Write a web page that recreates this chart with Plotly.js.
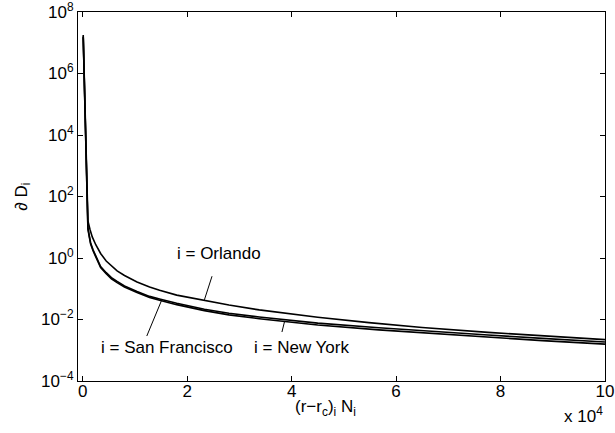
<!DOCTYPE html>
<html>
<head>
<meta charset="utf-8">
<script src="https://cdn.plot.ly/plotly-3.0.1.min.js"></script>
<style>html,body{margin:0;padding:0;background:#fff;}#chart{width:615px;height:433px;}</style>
</head>
<body>
<div id="chart"></div>
<script>
// Data
const xOrlando = [100, 1000, 1400, 1830, 2500, 3430, 4500, 5500, 6590, 8000, 10400, 12800, 14720, 18000, 23300, 28000, 33800, 40000, 45000, 54800, 65000, 77600, 88000, 100000];
const yOrlando = [1.8e7, 16, 8.5, 4.85, 2.7, 1.40, 0.80, 0.55, 0.38, 0.27, 0.166, 0.114, 0.089, 0.062, 0.042, 0.0295, 0.0205, 0.0148, 0.0118, 0.0079, 0.0055, 0.0038, 0.0029, 0.00222];
const xCity = [100, 1000, 1250, 1520, 2000, 2600, 3430, 4500, 5500, 6590, 8000, 10400, 12800, 14720, 18000, 23300, 28000, 33800, 40000, 45000, 56700, 65000, 77600, 88000, 100000];
const yNewYork = [1.6e7, 9.4, 5.4, 3.07, 1.82, 1.04, 0.53, 0.333, 0.229, 0.173, 0.123, 0.082, 0.0565, 0.0467, 0.0336, 0.0216, 0.0159, 0.0120, 0.0092, 0.0076, 0.0054, 0.0043, 0.00314, 0.00244, 0.00186];
const ySanFrancisco = [1.5e7, 8.8, 5.0, 2.83, 1.68, 0.96, 0.49, 0.307, 0.211, 0.159, 0.113, 0.075, 0.0515, 0.0423, 0.0304, 0.0194, 0.0141, 0.0106, 0.0080, 0.0066, 0.0046, 0.0037, 0.00266, 0.00206, 0.00158];

const xTickVals = [0, 20000, 40000, 60000, 80000, 100000];
const xTickText = ['0', '2', '4', '6', '8', '10'];
const yTickVals = [1e-4, 1e-2, 1, 1e2, 1e4, 1e6, 1e8];
const yTickText = ['10<sup>−4</sup>', '10<sup>−2</sup>', '10<sup>0</sup>', '10<sup>2</sup>', '10<sup>4</sup>', '10<sup>6</sup>', '10<sup>8</sup>'];

const FONT = 'Liberation Sans, Arial, Helvetica, sans-serif';
const lineStyle = {color: '#000', width: 1.6};

const traces = [
  {x: xOrlando, y: yOrlando, name: 'Orlando', mode: 'lines', line: lineStyle},
  {x: xCity, y: yNewYork, name: 'New York', mode: 'lines', line: lineStyle},
  {x: xCity, y: ySanFrancisco, name: 'San Francisco', mode: 'lines', line: lineStyle}
];

const axisCommon = {
  showline: true, linecolor: '#000', linewidth: 1, mirror: 'ticks',
  ticks: 'inside', ticklen: 5, tickcolor: '#000', tickwidth: 1,
  showgrid: false, zeroline: false,
  tickfont: {family: FONT, size: 17, color: '#000'}
};

const pointer = (hx, hy, tx, ty) => ({
  x: hx, y: hy, xref: 'x', yref: 'y', ax: tx, ay: ty, axref: 'x', ayref: 'y',
  text: ' ', font: {size: 1}, borderpad: 0, showarrow: true, arrowhead: 0,
  arrowwidth: 1, arrowcolor: '#000', standoff: 0, startstandoff: 0
});
const label = (x, y, text) => ({
  x: x, y: y, xref: 'x', yref: 'y', text: text, showarrow: false,
  xanchor: 'center', yanchor: 'middle', font: {family: FONT, size: 17, color: '#000'}
});

const layout = {
  width: 615, height: 433,
  margin: {l: 78, r: 10, t: 12, b: 52},
  paper_bgcolor: '#fff', plot_bgcolor: '#fff',
  showlegend: false,
  xaxis: Object.assign({}, axisCommon, {
    range: [-900, 100000], tickmode: 'array', tickvals: xTickVals, ticktext: xTickText,
    ticklabelstandoff: -5
  }),
  yaxis: Object.assign({}, axisCommon, {
    type: 'log', range: [-4.0001, 8.0001], tickmode: 'array', tickvals: yTickVals, ticktext: yTickText,
    ticklabeloverflow: 'allow'
  }),
  annotations: [
    label(26150, 0.155, 'i = Orlando'),
    label(16150, -2.895, 'i = San Francisco'),
    label(41870, -2.895, 'i = New York'),
    pointer(23300, -1.36, 24820, -0.56),
    pointer(15050, -1.40, 12190, -2.57),
    pointer(38670, -2.05, 38100, -2.44),
    {xref: 'paper', yref: 'paper', x: 0.469, y: -0.074, xanchor: 'center', yanchor: 'middle',
     showarrow: false, text: '(r−r<sub>c</sub>)<sub>i</sub> N<sub>i</sub>',
     font: {family: FONT, size: 17, color: '#000'}},
    {xref: 'paper', yref: 'paper', x: -0.106, y: 0.5, xanchor: 'center', yanchor: 'middle',
     showarrow: false, textangle: -90, text: '∂ D<sub>i</sub>',
     font: {family: FONT, size: 17, color: '#000'}},
    {xref: 'paper', yref: 'paper', x: 1.0, y: -0.092, xanchor: 'right', yanchor: 'middle',
     showarrow: false, text: 'x 10<sup>4</sup>',
     font: {family: FONT, size: 17, color: '#000'}}
  ]
};

Plotly.newPlot('chart', traces, layout, {staticPlot: true, displayModeBar: false}).then(function (gd) {
  // If the top tick label (10^8) was dropped by Plotly, draw it at the same place as a label.
  const labels = Array.from(gd.querySelectorAll('.ytick text'));
  const hasTop = labels.some(t => (t.textContent || '').indexOf('8') !== -1);
  if (!hasTop) {
    const ann = gd.layout.annotations.slice();
    ann.push({xref: 'paper', yref: 'y', x: 0, y: Math.log10(yTickVals[yTickVals.length - 1]),
      xanchor: 'right', yanchor: 'middle', xshift: -4, showarrow: false,
      text: yTickText[yTickText.length - 1], font: {family: FONT, size: 17, color: '#000'}});
    Plotly.relayout(gd, {annotations: ann});
  }
});
</script>
</body>
</html>
